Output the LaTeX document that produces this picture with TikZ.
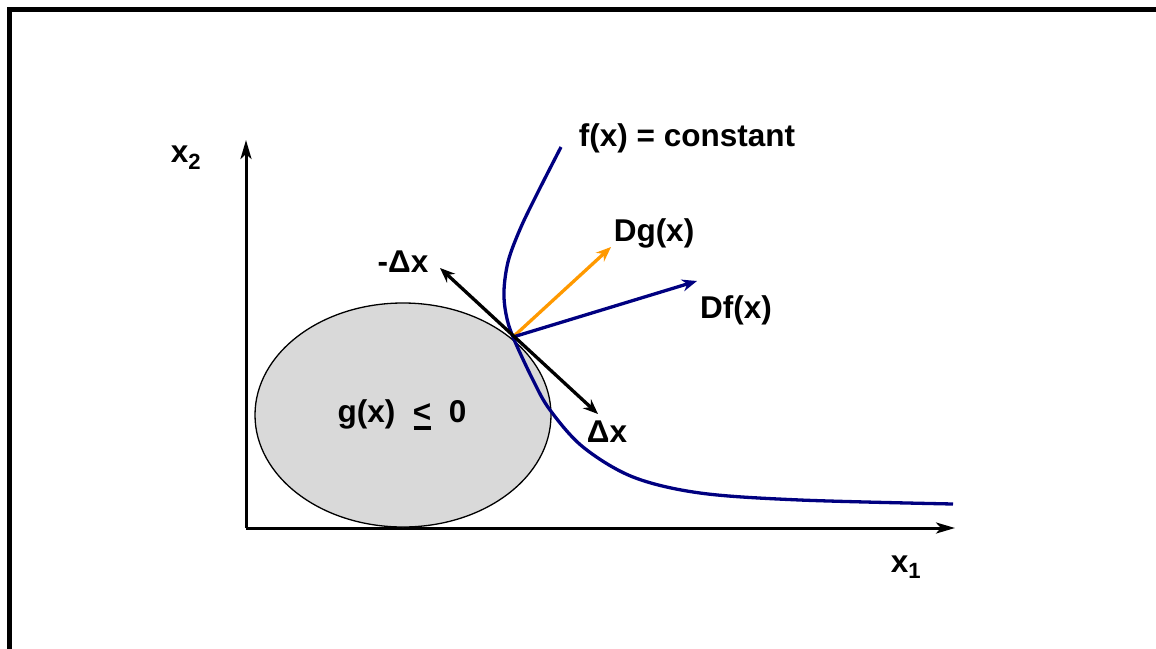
\documentclass[tikz,border=0pt]{standalone}
\usepackage{fontspec}
\setmainfont{Liberation Sans}
\usepackage{xcolor}
\definecolor{CurveNavy}{HTML}{000080}
\definecolor{GradOrange}{HTML}{FF9900}
\definecolor{RegionGray}{HTML}{D9D9D9}
\usepackage{tikz}
\usetikzlibrary{arrows.meta}

\tikzset{
  lbl/.style={font=\fontsize{31.5}{36}\selectfont\bfseries, inner sep=0pt},
  vecline/.style={-{Stealth[length=15pt,width=12pt]}, line width=3.3pt},
  axisline/.style={-{Stealth[length=19pt,width=11pt,inset=5pt]}, line width=3pt}
}
\newcommand{\ulle}{{\ooalign{<\cr\hidewidth\raisebox{-7pt}{\rule{17pt}{3.5pt}}\hidewidth\cr}}}

\begin{document}
\begin{tikzpicture}[x=1pt, y=-1pt]
  \useasboundingbox (0,0) rectangle (1156,648);
  \clip (0,0) rectangle (1156,648);

  % Frame
  \draw[line width=5pt] (9,9) rectangle (1200,700);

  % Axes
  \coordinate (origin) at (246,528);
  \coordinate (x1end) at (955,528);
  \coordinate (x2end) at (246,140);
  \draw[axisline] (origin) -- (x1end);
  \draw[axisline] (origin) -- (x2end);
  \node[lbl] (x1lbl) at (906,567) {x\textsubscript{1}};
  \node[lbl] (x2lbl) at (186,158) {x\textsubscript{2}};

  % Feasible region
  \filldraw[fill=RegionGray, draw=black, line width=1.3pt] (403,415) ellipse (148 and 112);
  \node[lbl] (gx) at (402,415) {g(x)\ \ \ulle\ \ 0};

  % Level curve of f
  \draw[CurveNavy, line width=3.3pt] plot[smooth, tension=0.55] coordinates {
    (561,147) (539,190) (521,227) (508.5,260) (504,290) (506,314) (513,337)
    (533,380) (550,410) (583,447) (633,477) (700,493) (800,500) (953,504)};
  \node[lbl] (flbl) at (687,138) {f(x) = constant};

  % Tangent point and vectors
  \coordinate (tp) at (513,337);
  \coordinate (dgend) at (611,247);
  \coordinate (dfend) at (697,281);
  \coordinate (mdxend) at (440,268);
  \coordinate (dxend) at (598,414);
  \draw[vecline, GradOrange] (tp) -- (dgend);
  \draw[vecline, CurveNavy] (tp) -- (dfend);
  \draw[vecline, {Stealth[length=15pt,width=12pt]}-{Stealth[length=15pt,width=12pt]}] (mdxend) -- (dxend);

  % Labels
  \node[lbl] (dglbl) at (654,233) {Dg(x)};
  \node[lbl] (dflbl) at (736,310) {Df(x)};
  \node[lbl] (mdxlbl) at (403,262) {-Δx};
  \node[lbl] (dxlbl) at (607,432) {Δx};
\end{tikzpicture}
\end{document}
